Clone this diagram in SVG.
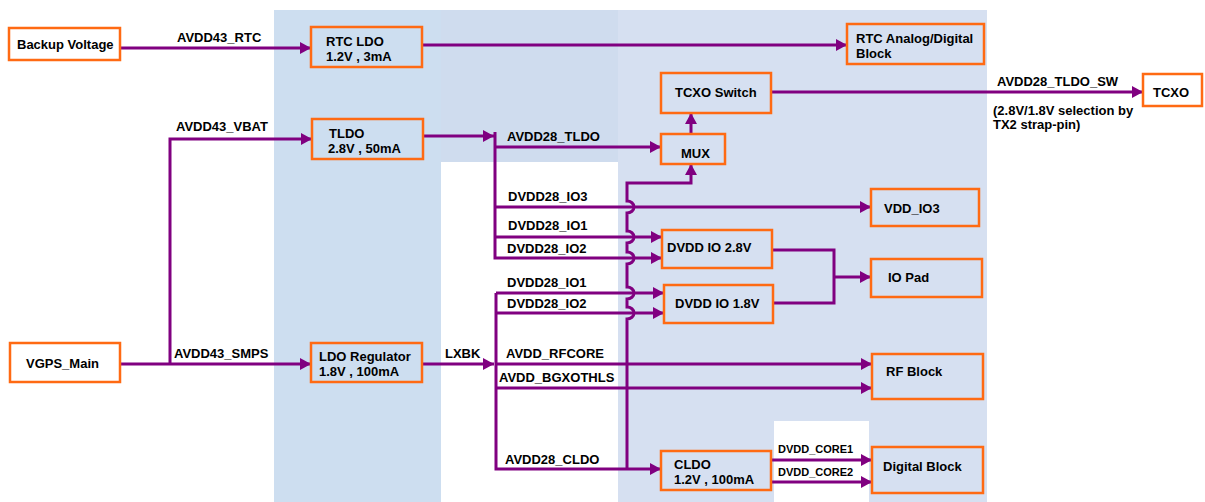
<svg xmlns="http://www.w3.org/2000/svg" width="1205" height="502" viewBox="0 0 1205 502">
<defs>
<marker id="arr" markerUnits="userSpaceOnUse" markerWidth="11" markerHeight="12" refX="11" refY="6" orient="auto"><path d="M0,0 L11,6 L0,12 z" fill="#800080"/></marker>
<style>
.box{fill:none;stroke:#ff6a13;stroke-width:2.5}
.wbox{fill:#fff;stroke:#ff6a13;stroke-width:2.5}
.t{font-family:"Liberation Sans",Arial,sans-serif;font-size:13px;font-weight:bold;fill:#000}
.s{font-size:11px}
.c{fill:none;stroke:#800080;stroke-width:3}
.a{marker-end:url(#arr)}
</style>
</defs>
<rect x="0" y="0" width="1205" height="502" fill="#fff"/>
<g id="panels">
<rect x="274" y="10" width="167" height="492" fill="#cddef0"/>
<rect x="441" y="10" width="177" height="152" fill="#cfdcee"/>
<rect x="618" y="10" width="369" height="492" fill="#d6e0f1"/>
<rect x="774" y="421" width="95" height="81" fill="#fff"/>
</g>
<g id="connectors">
<path class="c a" d="M120 48 H311"/>
<path class="c a" d="M422 45 H847"/>
<path class="c a" d="M120 364 H311"/>
<path class="c a" d="M170 364 V139 H312"/>
<path class="c a" d="M423 136 H494"/>
<path class="c a" d="M495 132 V258 H662"/>
<path class="c a" d="M495 147 H661"/>
<path class="c a" d="M495 207 H871"/>
<path class="c a" d="M495 237 H662"/>
<path class="c a" d="M422 364 H494"/>
<path class="c a" d="M496 293 H664"/>
<path class="c a" d="M496 293 V469 H661"/>
<path class="c a" d="M496 313 H664"/>
<path class="c a" d="M496 364 H872"/>
<path class="c a" d="M496 388 H872"/>
<path class="c a" d="M627 469 V319 A7 6 0 0 0 627 307 V299 A7 6 0 0 0 627 287 V264 A7 6 0 0 0 627 252 V243 A7 6 0 0 0 627 231 V213 A7 6 0 0 0 627 201 V183 H691 V164"/>
<path class="c a" d="M691 134 V113"/>
<path class="c a" d="M771 92 H1143"/>
<path class="c" d="M772 250 H834 V303 H773"/>
<path class="c a" d="M834 277 H871"/>
<path class="c a" d="M771 460 H872"/>
<path class="c a" d="M771 482 H872"/>
</g>
<g id="labels" class="t">
<text x="177" y="42">AVDD43_RTC</text>
<text x="176" y="131">AVDD43_VBAT</text>
<text x="174" y="358">AVDD43_SMPS</text>
<text x="507" y="141">AVDD28_TLDO</text>
<text x="508" y="201">DVDD28_IO3</text>
<text x="508" y="230">DVDD28_IO1</text>
<text x="507" y="253">DVDD28_IO2</text>
<text x="507" y="287">DVDD28_IO1</text>
<text x="507" y="308">DVDD28_IO2</text>
<text x="445" y="358">LXBK</text>
<text x="506" y="358">AVDD_RFCORE</text>
<text x="499" y="382">AVDD_BGXOTHLS</text>
<text x="505" y="464">AVDD28_CLDO</text>
<text x="778" y="453" class="s">DVDD_CORE1</text>
<text x="778" y="476" class="s">DVDD_CORE2</text>
<text x="997" y="86">AVDD28_TLDO_SW</text>
<text x="993" y="115">(2.8V/1.8V selection by</text>
<text x="993" y="129">TX2 strap-pin)</text>
</g>
<g id="n_backup"><rect class="wbox" x="9" y="28" width="111" height="32"/><text class="t" x="17" y="49">Backup Voltage</text></g>
<g id="n_rtcldo"><rect class="box" x="311" y="27" width="111" height="40"/><text class="t" x="326" y="46">RTC LDO</text><text class="t" x="326" y="61">1.2V , 3mA</text></g>
<g id="n_tldo"><rect class="box" x="312" y="119" width="111" height="40"/><text class="t" x="329" y="138">TLDO</text><text class="t" x="328" y="153">2.8V , 50mA</text></g>
<g id="n_rtcblock"><rect class="box" x="847" y="24" width="137" height="40"/><text class="t" x="856" y="43">RTC Analog/Digital</text><text class="t" x="856" y="58">Block</text></g>
<g id="n_tcxosw"><rect class="box" x="661" y="73" width="110" height="40"/><text class="t" x="675" y="97">TCXO Switch</text></g>
<g id="n_mux"><rect class="box" x="661" y="134" width="64" height="30"/><text class="t" x="681" y="158">MUX</text></g>
<g id="n_tcxo"><rect class="wbox" x="1143" y="74" width="59" height="32"/><text class="t" x="1153" y="97">TCXO</text></g>
<g id="n_vddio3"><rect class="box" x="871" y="189" width="108" height="37"/><text class="t" x="884" y="213">VDD_IO3</text></g>
<g id="n_iopad"><rect class="box" x="871" y="259" width="111" height="38"/><text class="t" x="888" y="282">IO Pad</text></g>
<g id="n_io28"><rect class="box" x="662" y="230" width="110" height="38"/><text class="t" x="667" y="252">DVDD IO 2.8V</text></g>
<g id="n_io18"><rect class="box" x="664" y="285" width="109" height="38"/><text class="t" x="675" y="308">DVDD IO 1.8V</text></g>
<g id="n_vgps"><rect class="wbox" x="10" y="343" width="110" height="39"/><text class="t" x="26" y="368">VGPS_Main</text></g>
<g id="n_ldoreg"><rect class="box" x="311" y="343" width="111" height="39"/><text class="t" x="319" y="361">LDO Regulator</text><text class="t" x="319" y="376">1.8V , 100mA</text></g>
<g id="n_rf"><rect class="box" x="872" y="354" width="111" height="45"/><text class="t" x="886" y="376">RF Block</text></g>
<g id="n_digital"><rect class="box" x="872" y="447" width="111" height="46"/><text class="t" x="883" y="471">Digital Block</text></g>
<g id="n_cldo"><rect class="box" x="661" y="451" width="110" height="39"/><text class="t" x="674" y="469">CLDO</text><text class="t" x="674" y="484">1.2V , 100mA</text></g>
</svg>
